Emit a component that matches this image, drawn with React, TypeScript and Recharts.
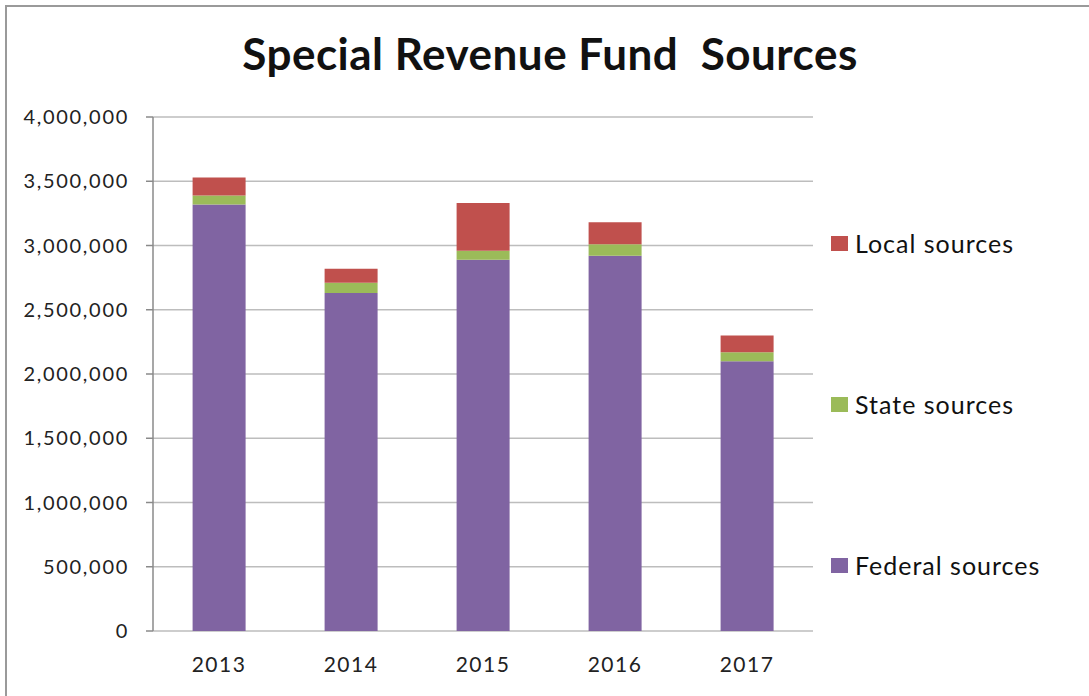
import {
  BarChart,
  Bar,
  XAxis,
  YAxis,
  CartesianGrid,
} from "recharts";

const years = ["2013", "2014", "2015", "2016", "2017"];
const federal = [3320000, 2630000, 2890000, 2920000, 2100000];
const state = [70000, 80000, 70000, 90000, 70000];
const local = [140000, 110000, 370000, 170000, 130000];
const yTicks = [0, 500000, 1000000, 1500000, 2000000, 2500000, 3000000, 3500000, 4000000];
const edgeTicks = [0, 1, 2, 3, 4, 5];

const series = [
  { key: "federal", name: "Federal sources", color: "#8064A2" },
  { key: "state", name: "State sources", color: "#9BBB59" },
  { key: "local", name: "Local sources", color: "#C0504D" },
];

const data = years.map((year, i) => ({
  year,
  federal: federal[i],
  state: state[i],
  local: local[i],
}));

const FONT = "Lato, 'Open Sans', sans-serif";

export default function App() {
  return (
    <div
      style={{
        position: "absolute",
        left: 0,
        top: 0,
        width: 1089,
        height: 696,
        overflow: "hidden",
        background: "#fff",
        fontFamily: FONT,
      }}
    >
      <div
        style={{
          position: "absolute",
          left: 5,
          top: 5,
          width: 1200,
          height: 800,
          borderTop: "2px solid #9a9a9a",
          borderLeft: "2px solid #9a9a9a",
        }}
      />
      <div
        style={{
          position: "absolute",
          left: 0,
          top: 27,
          width: 1100,
          textAlign: "center",
          fontSize: 44,
          fontWeight: 700,
          letterSpacing: 0.5,
          color: "#111",
          whiteSpace: "pre",
        }}
      >
        {"Special Revenue Fund  Sources"}
      </div>
      <div style={{ position: "absolute", left: 0, top: 0 }}>
        <BarChart
          width={1089}
          height={696}
          data={data}
          margin={{ top: 117, right: 276, bottom: 25, left: 0 }}
          barCategoryGap="30%"
        >
          <CartesianGrid horizontal vertical={false} stroke="#bdbdbd" strokeWidth={1.5} />
          <XAxis
            xAxisId="edges"
            type="number"
            domain={[0, 5]}
            ticks={edgeTicks}
            tick={false}
            tickSize={7}
            height={0}
            axisLine={{ stroke: "#8a8a8a", strokeWidth: 1.5 }}
            tickLine={{ stroke: "#8a8a8a", strokeWidth: 1.5 }}
          />
          <XAxis
            dataKey="year"
            axisLine={false}
            tickLine={false}
            height={40}
            tickMargin={20}
            tick={{ fill: "#222", fontSize: 21, fontFamily: FONT, letterSpacing: 1.5 }}
          />
          <YAxis
            width={153}
            domain={[0, 4000000]}
            ticks={yTicks}
            tickFormatter={(v: number) => v.toLocaleString("en-US")}
            tickSize={7}
            tickMargin={17}
            axisLine={{ stroke: "#8a8a8a", strokeWidth: 1.5 }}
            tickLine={{ stroke: "#8a8a8a", strokeWidth: 1.5 }}
            tick={{ fill: "#222", fontSize: 20, fontFamily: FONT, letterSpacing: 1.7 }}
          />
          {series.map((s) => (
            <Bar
              key={s.key}
              dataKey={s.key}
              name={s.name}
              stackId="a"
              fill={s.color}
              isAnimationActive={false}
            />
          ))}
        </BarChart>
      </div>
      {[...series].reverse().map((s, i) => (
        <div
          key={s.key}
          style={{
            position: "absolute",
            left: 831,
            top: 228 + i * 161,
            display: "flex",
            alignItems: "center",
            fontSize: 25,
            letterSpacing: 1,
            color: "#111",
            whiteSpace: "nowrap",
          }}
        >
          <span
            style={{
              display: "inline-block",
              width: 17,
              height: 15,
              background: s.color,
              marginRight: 7,
            }}
          />
          {s.name}
        </div>
      ))}
    </div>
  );
}
